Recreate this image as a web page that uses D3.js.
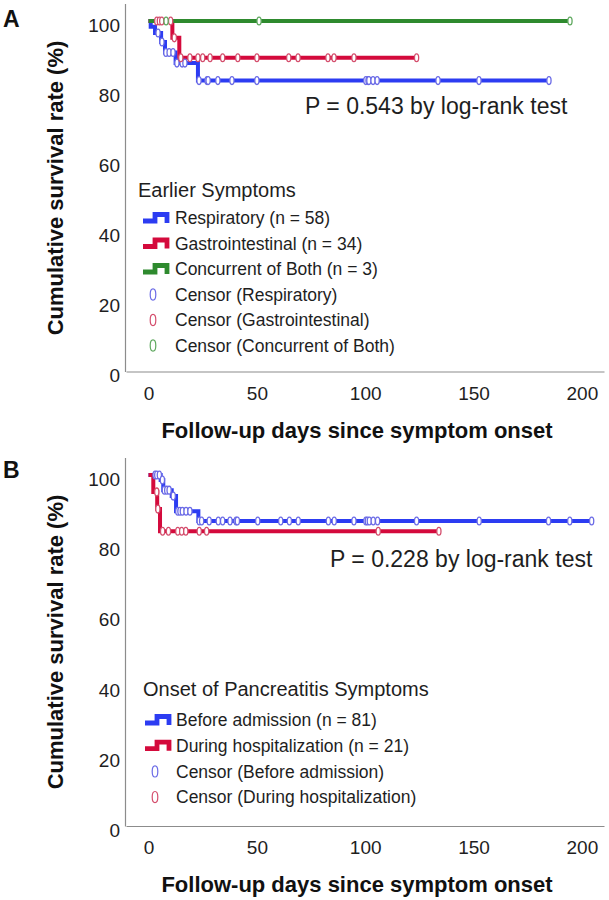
<!DOCTYPE html>
<html><head><meta charset="utf-8">
<script src="https://cdn.jsdelivr.net/npm/d3@7"></script>
<style>body{margin:0;background:#fff}svg{display:block;font-family:"Liberation Sans",Arial,sans-serif}</style>
</head><body><svg id="c" width="609" height="900"></svg>
<script>
// ---------- data ----------
const xTicks = [0, 50, 100, 150, 200];
const yTicks = [0, 20, 40, 60, 80, 100];

// Panel A: Earlier Symptoms
const respTimes = [0, 1, 3, 5.8, 7.6, 12.5, 22.8];
const respSurv = [100, 98.4, 96.6, 94.0, 91.0, 88.0, 83.0];
const respEnd = 184.8;
const respCensor = [4.4, 6.2, 8, 9.5, 11.3, 13.1, 15.5, 16.8, 23.3, 27, 27.5, 32, 38.5, 50, 100.3, 101.3, 101.7, 103.6, 105.5, 133.6, 152.5, 184.8];

const giTimes = [0, 11, 14.2];
const giSurv = [100, 95.2, 89.5];
const giEnd = 123.7;
const giCensor = [3.8, 5.0, 6.1, 10.2, 11.9, 14.9, 19.1, 22.8, 25, 28.4, 34.2, 41.2, 50, 64.7, 69, 82.8, 85.6, 94.8, 123.7];

const bothTimes = [0];
const bothSurv = [100];
const bothEnd = 194.5;
const bothCensor = [8.1, 51, 194.5];

// Panel B: Onset of Pancreatitis Symptoms
const beforeTimes = [0, 5.6, 6.8, 10.7, 12.7, 23];
const beforeSurv = [100, 98.6, 95.7, 94.0, 89.7, 86.9];
const beforeEnd = 204.5;
const beforeCensor = [3, 3.8, 5, 6.4, 7.3, 8.4, 9.5, 11.4, 13.5, 14.5, 15.6, 17.3, 19.1, 23.4, 24.5, 28, 32.2, 34.2, 37.6, 40.4, 41, 50.4, 61, 65, 69.1, 83, 85.7, 94.8, 100.3, 101, 101.9, 103.7, 105.7, 123.7, 152.6, 184.6, 194.4, 204.5];

const duringTimes = [0, 2.2, 4.0, 5.3];
const duringSurv = [100, 95.2, 90.3, 84.0];
const duringEnd = 134;
const duringCensor = [3.8, 4.3, 6.5, 9.2, 13.5, 15.3, 17.2, 23.4, 26.8, 106, 134];

const panelALabels = ["Respiratory (n = 58)", "Gastrointestinal (n = 34)", "Concurrent of Both (n = 3)"];
const panelACensorLabels = ["Censor (Respiratory)", "Censor (Gastrointestinal)", "Censor (Concurrent of Both)"];
const panelBLabels = ["Before admission (n = 81)", "During hospitalization (n = 21)"];
const panelBCensorLabels = ["Censor (Before admission)", "Censor (During hospitalization)"];

// ---------- styles ----------
const COL = {blue: "#2c3cf2", red: "#d40a3c", green: "#2e8a2e"};
const CEN = {blue: "#6a6ae6", red: "#d44d6c", green: "#5ea85e"};
const TXT = "#1e1e1e";

const svg = d3.select("#c");
const x = d3.scaleLinear().domain([-10.4, 210.2]).range([126, 604]);

function survAt(times, surv, t) {
  const i = d3.bisectRight(times, t) - 1;
  return surv[Math.max(0, i)];
}

function drawPanel(cfg) {
  const y = d3.scaleLinear().domain([0, 105]).range([cfg.y0, cfg.yTop]);
  const g = svg.append("g");

  // axes
  const ax = g.append("g").attr("transform", `translate(0,${cfg.y0})`)
    .call(d3.axisBottom(x).tickValues(xTicks).tickSize(0).tickPadding(15).tickSizeOuter(0));
  ax.select(".domain").attr("stroke", "#8c8c8c").attr("stroke-width", 1.2);
  ax.selectAll("text").attr("font-size", 19).attr("fill", TXT).attr("font-family", "Liberation Sans, Arial");

  const ay = g.append("g").attr("transform", `translate(125,0)`)
    .call(d3.axisLeft(y).tickValues(yTicks).tickSize(0).tickPadding(5).tickSizeOuter(0));
  ay.select(".domain").attr("stroke", "#8c8c8c").attr("stroke-width", 1.2);
  ay.selectAll("text").attr("font-size", 19).attr("fill", TXT).attr("dy", "0.55em").attr("font-family", "Liberation Sans, Arial");

  // titles
  g.append("text").attr("x", 357).attr("y", cfg.y0 + 66).attr("text-anchor", "middle")
    .attr("font-size", 22).attr("font-weight", "bold").attr("fill", "#111")
    .text("Follow-up days since symptom onset");
  g.append("text").attr("transform", `translate(63,${cfg.yTitle}) rotate(-90)`).attr("text-anchor", "middle")
    .attr("font-size", 22).attr("font-weight", "bold").attr("fill", "#111")
    .text("Cumulative survival rate (%)");
  g.append("text").attr("x", 3).attr("y", cfg.letterY).attr("font-size", 23).attr("font-weight", "bold").attr("fill", "#111")
    .text(cfg.letter);
  g.append("text").attr("x", cfg.pX).attr("y", cfg.pY).attr("font-size", 23).attr("fill", TXT).text(cfg.pText);

  const line = d3.line().x(d => x(d[0])).y(d => y(d[1])).curve(d3.curveStepAfter);

  cfg.series.forEach(s => {
    const pts = s.times.map((t, i) => [t, s.surv[i]]);
    pts.push([s.end, s.surv[s.surv.length - 1]]);
    g.append("path").attr("d", line(pts)).attr("fill", "none")
      .attr("stroke", COL[s.color]).attr("stroke-width", 4).attr("stroke-linejoin", "miter");
  });
  cfg.series.forEach(s => {
    g.append("g").selectAll("ellipse").data(s.censor).join("ellipse")
      .attr("cx", d => x(d)).attr("cy", d => y(survAt(s.times, s.surv, d)))
      .attr("rx", 2.1).attr("ry", 3.9)
      .attr("fill", "#fff").attr("stroke", CEN[s.color]).attr("stroke-width", 1.3);
  });

  // legend
  const L = cfg.legend;
  g.append("text").attr("x", L.x).attr("y", L.titleY).attr("font-size", 20).attr("fill", TXT).text(L.title);
  let row = 0;
  cfg.series.forEach((s, i) => {
    const cy = L.firstY + row * L.step;
    const x0 = L.symX;
    g.append("path").attr("d", `M${x0},${cy + 3}H${x0 + 12}V${cy - 3.5}H${x0 + 24}V${cy + 5}`)
      .attr("fill", "none").attr("stroke", COL[s.color]).attr("stroke-width", 4.8);
    g.append("text").attr("x", L.textX).attr("y", cy + 6.3).attr("font-size", 17.5).attr("fill", TXT).text(L.labels[i]);
    row++;
  });
  cfg.series.forEach((s, i) => {
    const cy = L.firstY + row * L.step;
    g.append("ellipse").attr("cx", L.symX + 10).attr("cy", cy).attr("rx", 2.8).attr("ry", 5.6)
      .attr("fill", "none").attr("stroke", CEN[s.color]).attr("stroke-width", 1.2);
    g.append("text").attr("x", L.textX).attr("y", cy + 6.3).attr("font-size", 17.5).attr("fill", TXT).text(L.censorLabels[i]);
    row++;
  });
}

drawPanel({
  y0: 371.5, yTop: 3.5, yTitle: 188, letter: "A", letterY: 27,
  pX: 305, pY: 113.5, pText: "P = 0.543 by log-rank test",
  series: [
    {times: respTimes, surv: respSurv, end: respEnd, censor: respCensor, color: "blue"},
    {times: giTimes, surv: giSurv, end: giEnd, censor: giCensor, color: "red"},
    {times: bothTimes, surv: bothSurv, end: bothEnd, censor: bothCensor, color: "green"}
  ],
  legend: {x: 138, titleY: 197, firstY: 218, step: 25.5, symX: 143, textX: 175,
    title: "Earlier Symptoms", labels: panelALabels, censorLabels: panelACensorLabels}
});

drawPanel({
  y0: 826, yTop: 457.5, yTitle: 642, letter: "B", letterY: 478,
  pX: 330, pY: 566.5, pText: "P = 0.228 by log-rank test",
  series: [
    {times: beforeTimes, surv: beforeSurv, end: beforeEnd, censor: beforeCensor, color: "blue"},
    {times: duringTimes, surv: duringSurv, end: duringEnd, censor: duringCensor, color: "red"}
  ],
  legend: {x: 143, titleY: 696, firstY: 720, step: 25.7, symX: 145, textX: 176,
    title: "Onset of Pancreatitis Symptoms", labels: panelBLabels, censorLabels: panelBCensorLabels}
});
</script>
</body></html>
